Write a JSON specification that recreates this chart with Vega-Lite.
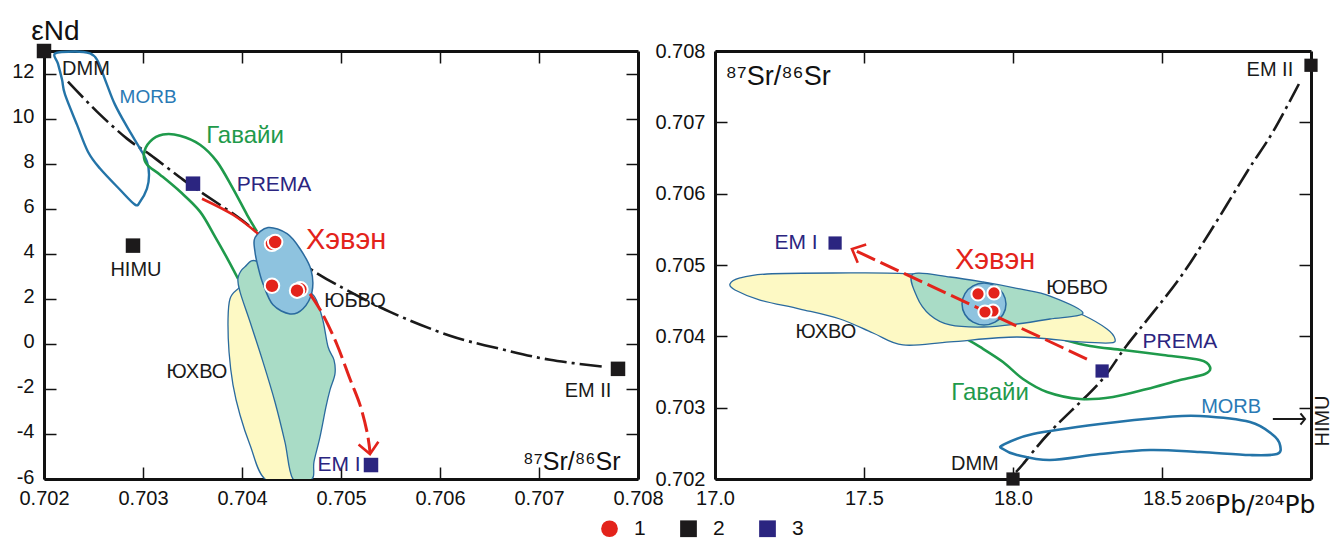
{
"$schema":"https://vega.github.io/schema/vega-lite/v6.json",
"background":"white",
"padding":{"left":11,"top":17,"right":0,"bottom":0},
"bounds":"flush",
"spacing":77,
"config":{"view":{"stroke":null},"font":"Liberation Sans",
 "axis":{"domainColor":"#111","domainWidth":3,"tickColor":"#111","tickWidth":1.5,"tickSize":-12,"labelFont":"Liberation Sans","labelFontSize":20,"labelColor":"#111","labelPadding":22,"labelFlush":false,"labelOverlap":false,"grid":false,"titleFont":"Liberation Sans","titleColor":"#111","titleFontWeight":"normal"},
 "axisBottom":{"labelPadding":21}},
"datasets":{
"L_shapes":[
{"s":"morb","i":1,"x":0.702111,"y":12.89},{"s":"morb","i":2,"x":0.702313,"y":12.98},{"s":"morb","i":3,"x":0.702465,"y":12.89},{"s":"morb","i":4,"x":0.702535,"y":12.62},{"s":"morb","i":5,"x":0.702586,"y":12.09},{"s":"morb","i":6,"x":0.702636,"y":11.51},{"s":"morb","i":7,"x":0.702717,"y":10.62},{"s":"morb","i":8,"x":0.702838,"y":9.64},{"s":"morb","i":9,"x":0.70297,"y":8.67},{"s":"morb","i":10,"x":0.70304,"y":8.09},{"s":"morb","i":11,"x":0.703061,"y":7.51},{"s":"morb","i":12,"x":0.70304,"y":6.89},{"s":"morb","i":13,"x":0.70297,"y":6.31},{"s":"morb","i":14,"x":0.702919,"y":6.18},{"s":"morb","i":15,"x":0.702768,"y":6.84},{"s":"morb","i":16,"x":0.702566,"y":7.78},{"s":"morb","i":17,"x":0.702444,"y":8.53},{"s":"morb","i":18,"x":0.702333,"y":9.73},{"s":"morb","i":19,"x":0.702212,"y":11.07},{"s":"morb","i":20,"x":0.702182,"y":11.73},{"s":"morb","i":21,"x":0.702141,"y":12.44},
{"s":"haw","i":1,"x":0.70396,"y":2.89},{"s":"haw","i":2,"x":0.703859,"y":3.73},{"s":"haw","i":3,"x":0.703727,"y":4.76},{"s":"haw","i":4,"x":0.703576,"y":5.87},{"s":"haw","i":5,"x":0.703374,"y":6.76},{"s":"haw","i":6,"x":0.703172,"y":7.51},{"s":"haw","i":7,"x":0.70304,"y":7.96},{"s":"haw","i":8,"x":0.70301,"y":8.44},{"s":"haw","i":9,"x":0.703071,"y":8.98},{"s":"haw","i":10,"x":0.703202,"y":9.29},{"s":"haw","i":11,"x":0.703374,"y":9.24},{"s":"haw","i":12,"x":0.703576,"y":8.84},{"s":"haw","i":13,"x":0.703747,"y":8.09},{"s":"haw","i":14,"x":0.703909,"y":6.89},{"s":"haw","i":15,"x":0.704051,"y":5.73},{"s":"haw","i":16,"x":0.704152,"y":4.98},
{"s":"yuhvo","i":1,"x":0.70403,"y":2.53},{"s":"yuhvo","i":2,"x":0.703949,"y":2.4},{"s":"yuhvo","i":3,"x":0.703879,"y":2.0},{"s":"yuhvo","i":4,"x":0.703859,"y":1.11},{"s":"yuhvo","i":5,"x":0.703869,"y":-0.36},{"s":"yuhvo","i":6,"x":0.703909,"y":-1.82},{"s":"yuhvo","i":7,"x":0.70398,"y":-3.16},{"s":"yuhvo","i":8,"x":0.704081,"y":-4.49},{"s":"yuhvo","i":9,"x":0.704232,"y":-6.0},{"s":"yuhvo","i":10,"x":0.704535,"y":-6.0},{"s":"yuhvo","i":11,"x":0.704384,"y":-2.58},{"s":"yuhvo","i":12,"x":0.704131,"y":1.42},
{"s":"yubvo","i":1,"x":0.70396,"y":2.93},{"s":"yubvo","i":2,"x":0.70403,"y":3.42},{"s":"yubvo","i":3,"x":0.704162,"y":3.64},{"s":"yubvo","i":4,"x":0.704485,"y":2.31},{"s":"yubvo","i":5,"x":0.704707,"y":2.22},{"s":"yubvo","i":6,"x":0.704808,"y":1.2},{"s":"yubvo","i":7,"x":0.704869,"y":-0.13},{"s":"yubvo","i":8,"x":0.704929,"y":-0.71},{"s":"yubvo","i":9,"x":0.704939,"y":-1.33},{"s":"yubvo","i":10,"x":0.704889,"y":-2.04},{"s":"yubvo","i":11,"x":0.704848,"y":-2.8},{"s":"yubvo","i":12,"x":0.704788,"y":-4.13},{"s":"yubvo","i":13,"x":0.704727,"y":-5.24},{"s":"yubvo","i":14,"x":0.704707,"y":-6.0},{"s":"yubvo","i":15,"x":0.704515,"y":-6.0},{"s":"yubvo","i":16,"x":0.704434,"y":-4.36},{"s":"yubvo","i":17,"x":0.704333,"y":-2.58},{"s":"yubvo","i":18,"x":0.704212,"y":-0.8},{"s":"yubvo","i":19,"x":0.704081,"y":0.98},{"s":"yubvo","i":20,"x":0.70398,"y":2.31},
{"s":"hev","i":1,"x":0.704263,"y":5.16},{"s":"hev","i":2,"x":0.704455,"y":4.89},{"s":"hev","i":3,"x":0.704586,"y":4.22},{"s":"hev","i":4,"x":0.704697,"y":3.29},{"s":"hev","i":5,"x":0.704707,"y":2.31},{"s":"hev","i":6,"x":0.704616,"y":1.56},{"s":"hev","i":7,"x":0.704485,"y":1.33},{"s":"hev","i":8,"x":0.704313,"y":1.73},{"s":"hev","i":9,"x":0.704212,"y":2.67},{"s":"hev","i":10,"x":0.704162,"y":3.42},{"s":"hev","i":11,"x":0.704131,"y":4.09},{"s":"hev","i":12,"x":0.704131,"y":4.71},
{"s":"blk","i":1,"x":0.702242,"y":11.64},{"s":"blk","i":2,"x":0.702535,"y":10.31},{"s":"blk","i":3,"x":0.702838,"y":9.11},{"s":"blk","i":4,"x":0.703071,"y":8.4},{"s":"blk","i":5,"x":0.703404,"y":7.29},{"s":"blk","i":6,"x":0.703576,"y":6.76},{"s":"blk","i":7,"x":0.703909,"y":5.78},{"s":"blk","i":8,"x":0.704152,"y":4.98},{"s":"blk","i":9,"x":0.704434,"y":4.09},{"s":"blk","i":10,"x":0.704687,"y":3.33},{"s":"blk","i":11,"x":0.70496,"y":2.62},{"s":"blk","i":12,"x":0.705495,"y":1.42},{"s":"blk","i":13,"x":0.706101,"y":0.36},{"s":"blk","i":14,"x":0.706606,"y":-0.22},{"s":"blk","i":15,"x":0.707111,"y":-0.71},{"s":"blk","i":16,"x":0.707667,"y":-1.02},
{"s":"redA","i":1,"x":0.703596,"y":6.44},{"s":"redA","i":2,"x":0.703909,"y":5.73},{"s":"redA","i":3,"x":0.704162,"y":4.89},
{"s":"redB","i":1,"x":0.704687,"y":2.22},{"s":"redB","i":2,"x":0.704818,"y":1.29},{"s":"redB","i":3,"x":0.70496,"y":-0.04},{"s":"redB","i":4,"x":0.705091,"y":-1.56},{"s":"redB","i":5,"x":0.705192,"y":-2.71},{"s":"redB","i":6,"x":0.705263,"y":-3.91},{"s":"redB","i":7,"x":0.705293,"y":-4.8}
],
"L_pts":[
{"type":"1","x":0.704303,"y":4.44},{"type":"1","x":0.704335,"y":4.52},{"type":"1","x":0.704303,"y":2.58},{"type":"1","x":0.70459,"y":2.42},{"type":"1","x":0.704556,"y":2.36},
{"type":"2","x":0.702,"y":13.0},{"type":"2","x":0.702899,"y":4.36},{"type":"2","x":0.707798,"y":-1.11},
{"type":"3","x":0.703505,"y":7.11},{"type":"3","x":0.705303,"y":-5.38}
],
"L_tip":[{"x":0.705293,"y":-4.89}],
"L_txt":[
{"t":"DMM","x":0.702424,"y":12.18},{"t":"MORB","x":0.703051,"y":10.98},{"t":"Гавайи","x":0.70403,"y":9.24},{"t":"PREMA","x":0.704323,"y":7.07},{"t":"HIMU","x":0.702929,"y":3.29},{"t":"Хэвэн","x":0.705051,"y":4.62},{"t":"ЮБВО","x":0.705141,"y":1.91},{"t":"ЮХВО","x":0.703545,"y":-1.24},{"t":"EM I","x":0.70498,"y":-5.38},{"t":"EM II","x":0.707495,"y":-2.09}
],
"R_shapes":[
{"s":"morb","i":1,"x":17.9664,"y":0.702477},{"s":"morb","i":2,"x":18.0671,"y":0.702631},{"s":"morb","i":3,"x":18.2919,"y":0.702771},{"s":"morb","i":4,"x":18.5168,"y":0.702869},{"s":"morb","i":5,"x":18.6275,"y":0.702883},{"s":"morb","i":6,"x":18.7953,"y":0.702799},{"s":"morb","i":7,"x":18.8725,"y":0.702617},{"s":"morb","i":8,"x":18.896,"y":0.702477},{"s":"morb","i":9,"x":18.8859,"y":0.70235},{"s":"morb","i":10,"x":18.7953,"y":0.702336},{"s":"morb","i":11,"x":18.6275,"y":0.702378},{"s":"morb","i":12,"x":18.4597,"y":0.702406},{"s":"morb","i":13,"x":18.2919,"y":0.70235},{"s":"morb","i":14,"x":18.1242,"y":0.702266},{"s":"morb","i":15,"x":18.0134,"y":0.702336},{"s":"morb","i":16,"x":17.9664,"y":0.702421},
{"s":"haw","i":1,"x":17.849,"y":0.703949},{"s":"haw","i":2,"x":17.8893,"y":0.703851},{"s":"haw","i":3,"x":17.9664,"y":0.70364},{"s":"haw","i":4,"x":18.0336,"y":0.703402},{"s":"haw","i":5,"x":18.1141,"y":0.70322},{"s":"haw","i":6,"x":18.2248,"y":0.703122},{"s":"haw","i":7,"x":18.3356,"y":0.70315},{"s":"haw","i":8,"x":18.4497,"y":0.703262},{"s":"haw","i":9,"x":18.5604,"y":0.703388},{"s":"haw","i":10,"x":18.6443,"y":0.703472},{"s":"haw","i":11,"x":18.6611,"y":0.70357},{"s":"haw","i":12,"x":18.6275,"y":0.703668},{"s":"haw","i":13,"x":18.5034,"y":0.703738},{"s":"haw","i":14,"x":18.3691,"y":0.703808},{"s":"haw","i":15,"x":18.2584,"y":0.703865},{"s":"haw","i":16,"x":18.1745,"y":0.703949},
{"s":"yuhvo","i":1,"x":17.0503,"y":0.704734},{"s":"yuhvo","i":2,"x":17.0839,"y":0.704818},{"s":"yuhvo","i":3,"x":17.1745,"y":0.704874},{"s":"yuhvo","i":4,"x":17.396,"y":0.704888},{"s":"yuhvo","i":5,"x":17.6644,"y":0.704874},{"s":"yuhvo","i":6,"x":17.8993,"y":0.704734},{"s":"yuhvo","i":7,"x":18.1242,"y":0.704481},{"s":"yuhvo","i":8,"x":18.2349,"y":0.704299},{"s":"yuhvo","i":9,"x":18.3154,"y":0.704103},{"s":"yuhvo","i":10,"x":18.3423,"y":0.703963},{"s":"yuhvo","i":11,"x":18.3255,"y":0.703907},{"s":"yuhvo","i":12,"x":18.2248,"y":0.703921},{"s":"yuhvo","i":13,"x":18.0134,"y":0.703991},{"s":"yuhvo","i":14,"x":17.7886,"y":0.703921},{"s":"yuhvo","i":15,"x":17.6309,"y":0.703879},{"s":"yuhvo","i":16,"x":17.5302,"y":0.704047},{"s":"yuhvo","i":17,"x":17.4195,"y":0.704243},{"s":"yuhvo","i":18,"x":17.2852,"y":0.704383},{"s":"yuhvo","i":19,"x":17.151,"y":0.704509},{"s":"yuhvo","i":20,"x":17.0671,"y":0.70465},
{"s":"yubvo","i":1,"x":17.6644,"y":0.704874},{"s":"yubvo","i":2,"x":17.7886,"y":0.704832},{"s":"yubvo","i":3,"x":17.8993,"y":0.704762},{"s":"yubvo","i":4,"x":18.0235,"y":0.704664},{"s":"yubvo","i":5,"x":18.1242,"y":0.704565},{"s":"yubvo","i":6,"x":18.2349,"y":0.704327},{"s":"yubvo","i":7,"x":18.1242,"y":0.704243},{"s":"yubvo","i":8,"x":18.0134,"y":0.704173},{"s":"yubvo","i":9,"x":17.8993,"y":0.704131},{"s":"yubvo","i":10,"x":17.7886,"y":0.704159},{"s":"yubvo","i":11,"x":17.7215,"y":0.704299},{"s":"yubvo","i":12,"x":17.6779,"y":0.704551},
{"s":"hev","i":1,"x":17.9765,"y":0.704453},{"s":"hev","i":2,"x":17.9666,"y":0.7046},{"s":"hev","i":3,"x":17.9396,"y":0.704708},{"s":"hev","i":4,"x":17.9027,"y":0.704747},{"s":"hev","i":5,"x":17.8658,"y":0.704708},{"s":"hev","i":6,"x":17.8388,"y":0.7046},{"s":"hev","i":7,"x":17.8289,"y":0.704453},{"s":"hev","i":8,"x":17.8388,"y":0.704306},{"s":"hev","i":9,"x":17.8658,"y":0.704198},{"s":"hev","i":10,"x":17.9027,"y":0.704159},{"s":"hev","i":11,"x":17.9396,"y":0.704198},{"s":"hev","i":12,"x":17.9666,"y":0.704306},
{"s":"blk","i":1,"x":18.01,"y":0.702098},{"s":"blk","i":2,"x":18.034,"y":0.70221},{"s":"blk","i":3,"x":18.124,"y":0.702659},{"s":"blk","i":4,"x":18.292,"y":0.70336},{"s":"blk","i":5,"x":18.383,"y":0.703879},{"s":"blk","i":6,"x":18.55,"y":0.704762},{"s":"blk","i":7,"x":18.661,"y":0.705463},{"s":"blk","i":8,"x":18.785,"y":0.706304},{"s":"blk","i":9,"x":18.872,"y":0.706865},{"s":"blk","i":10,"x":18.963,"y":0.707566},
{"s":"red","i":1,"x":18.248,"y":0.703682},{"s":"red","i":2,"x":17.4597,"y":0.705224}
],
"R_pts":[
{"type":"1","x":17.8826,"y":0.704594},{"type":"1","x":17.9362,"y":0.704608},{"type":"1","x":17.9329,"y":0.704355},{"type":"1","x":17.906,"y":0.704341},
{"type":"2","x":18.0,"y":0.702},{"type":"2","x":19.0,"y":0.7078},
{"type":"3","x":18.299,"y":0.703514},{"type":"3","x":17.403,"y":0.705308}
],
"R_tip":[{"x":17.4597,"y":0.705224}],
"R_arrow":[{"x":18.872,"x2":18.98,"y":0.702841}],
"R_txt":[
{"t":"EM II","x":18.862,"y":0.707734},{"t":"EM I","x":17.272,"y":0.705308},{"t":"Хэвэн","x":17.94,"y":0.70507},{"t":"ЮБВО","x":18.215,"y":0.704678},{"t":"ЮХВО","x":17.372,"y":0.704061},{"t":"Гавайи","x":17.923,"y":0.703206},{"t":"PREMA","x":18.56,"y":0.703921},{"t":"MORB","x":18.732,"y":0.703009},{"t":"DMM","x":17.872,"y":0.70221},{"t":"HIMU","x":19.04,"y":0.702813}
]
},
"hconcat":[
{
"width":594,"height":428,
"resolve":{"axis":{"x":"independent","y":"independent"}},
"layer":[
{"data":{"name":"L_pts"},"mark":{"type":"point","opacity":0},
 "encoding":{
  "x":{"field":"x","type":"quantitative","scale":{"domain":[0.702,0.708],"nice":false,"zero":false},"axis":{"orient":"bottom","values":[0.702,0.703,0.704,0.705,0.706,0.707,0.708],"format":".3f","title":"⁸⁷Sr/⁸⁶Sr","titleX":576,"titleY":-10,"titleAlign":"right","titleBaseline":"alphabetic","titleFontSize":25}},
  "y":{"field":"y","type":"quantitative","scale":{"domain":[-6,13],"nice":false,"zero":false},"axis":{"orient":"left","values":[-6,-4,-2,0,2,4,6,8,10,12],"labelOffset":-2,"labelExpr":"replace(datum.label,'−','-')","title":"εNd","titleX":11,"titleY":-12,"titleAngle":0,"titleAlign":"center","titleBaseline":"alphabetic","titleFontSize":28}}}},
{"data":{"name":"L_pts"},"mark":{"type":"point","opacity":0},
 "encoding":{
  "x":{"field":"x","type":"quantitative","scale":{"domain":[0.702,0.708],"nice":false,"zero":false},"axis":{"orient":"top","values":[0.703,0.704,0.705,0.706,0.707],"labels":false,"title":null}},
  "y":{"field":"y","type":"quantitative","scale":{"domain":[-6,13],"nice":false,"zero":false},"axis":{"orient":"right","values":[-4,-2,0,2,4,6,8,10,12],"labels":false,"title":null}}}},
{"data":{"name":"L_shapes"},"transform":[{"filter":"datum.s==='blk'"}],"mark":{"type":"line","color":"#1a1a1a","strokeWidth":2.6,"strokeDash":[22,5,3,5],"interpolate":"cardinal"},
 "encoding":{"x":{"field":"x","type":"quantitative","scale":{"domain":[0.702,0.708],"nice":false,"zero":false},"axis":null},"y":{"field":"y","type":"quantitative","scale":{"domain":[-6,13],"nice":false,"zero":false},"axis":null},"order":{"field":"i"}}},
{"data":{"name":"L_shapes"},"transform":[{"filter":"datum.s==='morb'"}],"mark":{"type":"line","color":"#2474a8","strokeWidth":2.4,"interpolate":"cardinal-closed"},
 "encoding":{"x":{"field":"x","type":"quantitative","scale":{"domain":[0.702,0.708],"nice":false,"zero":false},"axis":null},"y":{"field":"y","type":"quantitative","scale":{"domain":[-6,13],"nice":false,"zero":false},"axis":null},"order":{"field":"i"}}},
{"data":{"name":"L_shapes"},"transform":[{"filter":"datum.s==='haw'"}],"mark":{"type":"line","color":"#1f9a4b","strokeWidth":2.6,"interpolate":"cardinal"},
 "encoding":{"x":{"field":"x","type":"quantitative","scale":{"domain":[0.702,0.708],"nice":false,"zero":false},"axis":null},"y":{"field":"y","type":"quantitative","scale":{"domain":[-6,13],"nice":false,"zero":false},"axis":null},"order":{"field":"i"}}},
{"data":{"name":"L_shapes"},"transform":[{"filter":"datum.s==='yuhvo'"}],"mark":{"type":"line","fill":"#fdf9c4","stroke":"#2a6a9e","strokeWidth":1.3,"interpolate":"cardinal-closed","clip":true},
 "encoding":{"x":{"field":"x","type":"quantitative","scale":{"domain":[0.702,0.708],"nice":false,"zero":false},"axis":null},"y":{"field":"y","type":"quantitative","scale":{"domain":[-6,13],"nice":false,"zero":false},"axis":null},"order":{"field":"i"}}},
{"data":{"name":"L_shapes"},"transform":[{"filter":"datum.s==='yubvo'"}],"mark":{"type":"line","fill":"#a9dcc6","stroke":"#2a6a9e","strokeWidth":1.3,"interpolate":"cardinal-closed","clip":true},
 "encoding":{"x":{"field":"x","type":"quantitative","scale":{"domain":[0.702,0.708],"nice":false,"zero":false},"axis":null},"y":{"field":"y","type":"quantitative","scale":{"domain":[-6,13],"nice":false,"zero":false},"axis":null},"order":{"field":"i"}}},
{"data":{"name":"L_shapes"},"transform":[{"filter":"datum.s==='hev'"}],"mark":{"type":"line","fill":"#8ec3df","stroke":"#2a6a9e","strokeWidth":1.5,"interpolate":"cardinal-closed"},
 "encoding":{"x":{"field":"x","type":"quantitative","scale":{"domain":[0.702,0.708],"nice":false,"zero":false},"axis":null},"y":{"field":"y","type":"quantitative","scale":{"domain":[-6,13],"nice":false,"zero":false},"axis":null},"order":{"field":"i"}}},
{"data":{"name":"L_shapes"},"transform":[{"filter":"datum.s==='redA'"}],"mark":{"type":"line","color":"#e3231b","strokeWidth":2.6,"interpolate":"cardinal"},
 "encoding":{"x":{"field":"x","type":"quantitative","scale":{"domain":[0.702,0.708],"nice":false,"zero":false},"axis":null},"y":{"field":"y","type":"quantitative","scale":{"domain":[-6,13],"nice":false,"zero":false},"axis":null},"order":{"field":"i"}}},
{"data":{"name":"L_shapes"},"transform":[{"filter":"datum.s==='redB'"}],"mark":{"type":"line","color":"#e3231b","strokeWidth":3,"strokeDash":[20,6],"interpolate":"cardinal"},
 "encoding":{"x":{"field":"x","type":"quantitative","scale":{"domain":[0.702,0.708],"nice":false,"zero":false},"axis":null},"y":{"field":"y","type":"quantitative","scale":{"domain":[-6,13],"nice":false,"zero":false},"axis":null},"order":{"field":"i"}}},
{"data":{"name":"L_tip"},"mark":{"type":"point","shape":"M-1,-1.1L0,0L1,-1.1","size":400,"filled":false,"stroke":"#e3231b","strokeWidth":2.6,"angle":352,"opacity":1},
 "encoding":{"x":{"field":"x","type":"quantitative","scale":{"domain":[0.702,0.708],"nice":false,"zero":false},"axis":null},"y":{"field":"y","type":"quantitative","scale":{"domain":[-6,13],"nice":false,"zero":false},"axis":null}}},
{"data":{"name":"L_pts"},"mark":{"type":"point","filled":true,"opacity":1,"size":210,"strokeWidth":2},
 "encoding":{"x":{"field":"x","type":"quantitative","scale":{"domain":[0.702,0.708],"nice":false,"zero":false},"axis":null},"y":{"field":"y","type":"quantitative","scale":{"domain":[-6,13],"nice":false,"zero":false},"axis":null},
  "color":{"field":"type","type":"nominal","scale":{"domain":["1","2","3"],"range":["#e3231b","#1c1a1b","#2b2580"]},"legend":{"orient":"none","legendX":555,"legendY":467,"direction":"horizontal","title":null,"symbolSize":280,"labelFontSize":21,"labelFont":"Liberation Sans","labelColor":"#111","labelOffset":14,"columnPadding":32,"symbolStrokeWidth":0}},
  "shape":{"field":"type","type":"nominal","scale":{"domain":["1","2","3"],"range":["circle","square","square"]},"legend":{"orient":"none","legendX":555,"legendY":467,"direction":"horizontal","title":null,"symbolSize":280,"labelFontSize":21,"labelFont":"Liberation Sans","labelColor":"#111","labelOffset":14,"columnPadding":32,"symbolStrokeWidth":0}},
  "stroke":{"condition":{"test":"datum.type==='1'","value":"white"},"value":"transparent"}}},
{"data":{"name":"L_txt"},"transform":[{"filter":{"field":"t","oneOf":["DMM","HIMU","ЮБВО","ЮХВО","EM II"]}}],"mark":{"type":"text","font":"Liberation Sans","fontSize":20,"color":"#1a1a1a","align":"center","baseline":"middle"},
 "encoding":{"x":{"field":"x","type":"quantitative","scale":{"domain":[0.702,0.708],"nice":false,"zero":false},"axis":null},"y":{"field":"y","type":"quantitative","scale":{"domain":[-6,13],"nice":false,"zero":false},"axis":null},"text":{"field":"t"}}},
{"data":{"name":"L_txt"},"transform":[{"filter":{"field":"t","oneOf":["PREMA","EM I"]}}],"mark":{"type":"text","font":"Liberation Sans","fontSize":21,"color":"#2b2580","align":"center","baseline":"middle"},
 "encoding":{"x":{"field":"x","type":"quantitative","scale":{"domain":[0.702,0.708],"nice":false,"zero":false},"axis":null},"y":{"field":"y","type":"quantitative","scale":{"domain":[-6,13],"nice":false,"zero":false},"axis":null},"text":{"field":"t"}}},
{"data":{"name":"L_txt"},"transform":[{"filter":"datum.t==='MORB'"}],"mark":{"type":"text","font":"Liberation Sans","fontSize":19,"color":"#2a7ab5","align":"center","baseline":"middle"},
 "encoding":{"x":{"field":"x","type":"quantitative","scale":{"domain":[0.702,0.708],"nice":false,"zero":false},"axis":null},"y":{"field":"y","type":"quantitative","scale":{"domain":[-6,13],"nice":false,"zero":false},"axis":null},"text":{"field":"t"}}},
{"data":{"name":"L_txt"},"transform":[{"filter":"datum.t==='Гавайи'"}],"mark":{"type":"text","font":"Liberation Sans","fontSize":24,"color":"#1f9a4b","align":"center","baseline":"middle"},
 "encoding":{"x":{"field":"x","type":"quantitative","scale":{"domain":[0.702,0.708],"nice":false,"zero":false},"axis":null},"y":{"field":"y","type":"quantitative","scale":{"domain":[-6,13],"nice":false,"zero":false},"axis":null},"text":{"field":"t"}}},
{"data":{"name":"L_txt"},"transform":[{"filter":"datum.t==='Хэвэн'"}],"mark":{"type":"text","font":"Liberation Sans","fontSize":29,"color":"#e3231b","align":"center","baseline":"middle"},
 "encoding":{"x":{"field":"x","type":"quantitative","scale":{"domain":[0.702,0.708],"nice":false,"zero":false},"axis":null},"y":{"field":"y","type":"quantitative","scale":{"domain":[-6,13],"nice":false,"zero":false},"axis":null},"text":{"field":"t"}}}
]
},
{
"width":596,"height":428,
"resolve":{"axis":{"x":"independent","y":"independent"}},
"layer":[
{"data":{"name":"R_pts"},"mark":{"type":"point","opacity":0},
 "encoding":{
  "x":{"field":"x","type":"quantitative","scale":{"domain":[17,19],"nice":false,"zero":false},"axis":{"orient":"bottom","values":[17,17.5,18,18.5,19],"labelExpr":"datum.value == 19 ? '' : format(datum.value, '.1f')","title":"²⁰⁶Pb/²⁰⁴Pb","titleFont":"DejaVu Sans","titleX":600,"titleY":33,"titleAlign":"right","titleBaseline":"alphabetic","titleFontSize":25}},
  "y":{"field":"y","type":"quantitative","scale":{"domain":[0.702,0.708],"nice":false,"zero":false},"axis":{"orient":"left","values":[0.702,0.703,0.704,0.705,0.706,0.707,0.708],"format":".3f","title":"⁸⁷Sr/⁸⁶Sr","titleX":10,"titleY":33,"titleAngle":0,"titleAlign":"left","titleBaseline":"alphabetic","titleFontSize":27}}}},
{"data":{"name":"R_pts"},"mark":{"type":"point","opacity":0},
 "encoding":{
  "x":{"field":"x","type":"quantitative","scale":{"domain":[17,19],"nice":false,"zero":false},"axis":{"orient":"top","values":[17.5,18,18.5],"labels":false,"title":null}},
  "y":{"field":"y","type":"quantitative","scale":{"domain":[0.702,0.708],"nice":false,"zero":false},"axis":{"orient":"right","values":[0.703,0.704,0.705,0.706,0.707],"labels":false,"title":null}}}},
{"data":{"name":"R_shapes"},"transform":[{"filter":"datum.s==='blk'"}],"mark":{"type":"line","color":"#1a1a1a","strokeWidth":2.6,"strokeDash":[20,5,3,5],"interpolate":"cardinal"},
 "encoding":{"x":{"field":"x","type":"quantitative","scale":{"domain":[17,19],"nice":false,"zero":false},"axis":null},"y":{"field":"y","type":"quantitative","scale":{"domain":[0.702,0.708],"nice":false,"zero":false},"axis":null},"order":{"field":"i"}}},
{"data":{"name":"R_shapes"},"transform":[{"filter":"datum.s==='morb'"}],"mark":{"type":"line","color":"#2474a8","strokeWidth":2.6,"interpolate":"cardinal-closed"},
 "encoding":{"x":{"field":"x","type":"quantitative","scale":{"domain":[17,19],"nice":false,"zero":false},"axis":null},"y":{"field":"y","type":"quantitative","scale":{"domain":[0.702,0.708],"nice":false,"zero":false},"axis":null},"order":{"field":"i"}}},
{"data":{"name":"R_shapes"},"transform":[{"filter":"datum.s==='haw'"}],"mark":{"type":"line","color":"#1f9a4b","strokeWidth":2.6,"interpolate":"cardinal"},
 "encoding":{"x":{"field":"x","type":"quantitative","scale":{"domain":[17,19],"nice":false,"zero":false},"axis":null},"y":{"field":"y","type":"quantitative","scale":{"domain":[0.702,0.708],"nice":false,"zero":false},"axis":null},"order":{"field":"i"}}},
{"data":{"name":"R_shapes"},"transform":[{"filter":"datum.s==='yuhvo'"}],"mark":{"type":"line","fill":"#fdf9c4","stroke":"#2a6a9e","strokeWidth":1.3,"interpolate":"cardinal-closed"},
 "encoding":{"x":{"field":"x","type":"quantitative","scale":{"domain":[17,19],"nice":false,"zero":false},"axis":null},"y":{"field":"y","type":"quantitative","scale":{"domain":[0.702,0.708],"nice":false,"zero":false},"axis":null},"order":{"field":"i"}}},
{"data":{"name":"R_shapes"},"transform":[{"filter":"datum.s==='yubvo'"}],"mark":{"type":"line","fill":"#a9dcc6","stroke":"#2a6a9e","strokeWidth":1.3,"interpolate":"cardinal-closed"},
 "encoding":{"x":{"field":"x","type":"quantitative","scale":{"domain":[17,19],"nice":false,"zero":false},"axis":null},"y":{"field":"y","type":"quantitative","scale":{"domain":[0.702,0.708],"nice":false,"zero":false},"axis":null},"order":{"field":"i"}}},
{"data":{"name":"R_shapes"},"transform":[{"filter":"datum.s==='hev'"}],"mark":{"type":"line","fill":"#8ec3df","stroke":"#2a6a9e","strokeWidth":1.5,"interpolate":"cardinal-closed"},
 "encoding":{"x":{"field":"x","type":"quantitative","scale":{"domain":[17,19],"nice":false,"zero":false},"axis":null},"y":{"field":"y","type":"quantitative","scale":{"domain":[0.702,0.708],"nice":false,"zero":false},"axis":null},"order":{"field":"i"}}},
{"data":{"name":"R_shapes"},"transform":[{"filter":"datum.s==='red'"}],"mark":{"type":"line","color":"#e3231b","strokeWidth":3,"strokeDash":[20,6]},
 "encoding":{"x":{"field":"x","type":"quantitative","scale":{"domain":[17,19],"nice":false,"zero":false},"axis":null},"y":{"field":"y","type":"quantitative","scale":{"domain":[0.702,0.708],"nice":false,"zero":false},"axis":null},"order":{"field":"i"}}},
{"data":{"name":"R_tip"},"mark":{"type":"point","shape":"M-1,-1.1L0,0L1,-1.1","size":400,"filled":false,"stroke":"#e3231b","strokeWidth":2.6,"angle":115,"opacity":1},
 "encoding":{"x":{"field":"x","type":"quantitative","scale":{"domain":[17,19],"nice":false,"zero":false},"axis":null},"y":{"field":"y","type":"quantitative","scale":{"domain":[0.702,0.708],"nice":false,"zero":false},"axis":null}}},
{"data":{"name":"R_arrow"},"mark":{"type":"rule","color":"#1a1a1a","strokeWidth":2},
 "encoding":{"x":{"field":"x","type":"quantitative","scale":{"domain":[17,19],"nice":false,"zero":false},"axis":null},"x2":{"field":"x2"},"y":{"field":"y","type":"quantitative","scale":{"domain":[0.702,0.708],"nice":false,"zero":false},"axis":null}}},
{"data":{"name":"R_arrow"},"mark":{"type":"point","shape":"M-0.8,-1L0,0L-0.8,1","size":130,"filled":false,"stroke":"#1a1a1a","strokeWidth":2,"opacity":1},
 "encoding":{"x":{"field":"x2","type":"quantitative","scale":{"domain":[17,19],"nice":false,"zero":false},"axis":null},"y":{"field":"y","type":"quantitative","scale":{"domain":[0.702,0.708],"nice":false,"zero":false},"axis":null}}},
{"data":{"name":"R_pts"},"mark":{"type":"point","filled":true,"opacity":1,"size":175,"strokeWidth":2},
 "encoding":{"x":{"field":"x","type":"quantitative","scale":{"domain":[17,19],"nice":false,"zero":false},"axis":null},"y":{"field":"y","type":"quantitative","scale":{"domain":[0.702,0.708],"nice":false,"zero":false},"axis":null},
  "color":{"field":"type","type":"nominal","scale":{"domain":["1","2","3"],"range":["#e3231b","#1c1a1b","#2b2580"]}},
  "shape":{"field":"type","type":"nominal","scale":{"domain":["1","2","3"],"range":["circle","square","square"]}},
  "stroke":{"condition":{"test":"datum.type==='1'","value":"white"},"value":"transparent"}}},
{"data":{"name":"R_txt"},"transform":[{"filter":{"field":"t","oneOf":["DMM","ЮБВО","ЮХВО","EM II"]}}],"mark":{"type":"text","font":"Liberation Sans","fontSize":20,"color":"#1a1a1a","align":"center","baseline":"middle"},
 "encoding":{"x":{"field":"x","type":"quantitative","scale":{"domain":[17,19],"nice":false,"zero":false},"axis":null},"y":{"field":"y","type":"quantitative","scale":{"domain":[0.702,0.708],"nice":false,"zero":false},"axis":null},"text":{"field":"t"}}},
{"data":{"name":"R_txt"},"transform":[{"filter":"datum.t==='HIMU'"}],"mark":{"type":"text","font":"Liberation Sans","fontSize":20,"color":"#1a1a1a","align":"center","baseline":"middle","angle":270},
 "encoding":{"x":{"field":"x","type":"quantitative","scale":{"domain":[17,19],"nice":false,"zero":false},"axis":null},"y":{"field":"y","type":"quantitative","scale":{"domain":[0.702,0.708],"nice":false,"zero":false},"axis":null},"text":{"field":"t"}}},
{"data":{"name":"R_txt"},"transform":[{"filter":{"field":"t","oneOf":["PREMA","EM I"]}}],"mark":{"type":"text","font":"Liberation Sans","fontSize":21,"color":"#2b2580","align":"center","baseline":"middle"},
 "encoding":{"x":{"field":"x","type":"quantitative","scale":{"domain":[17,19],"nice":false,"zero":false},"axis":null},"y":{"field":"y","type":"quantitative","scale":{"domain":[0.702,0.708],"nice":false,"zero":false},"axis":null},"text":{"field":"t"}}},
{"data":{"name":"R_txt"},"transform":[{"filter":"datum.t==='MORB'"}],"mark":{"type":"text","font":"Liberation Sans","fontSize":20,"color":"#2a7ab5","align":"center","baseline":"middle"},
 "encoding":{"x":{"field":"x","type":"quantitative","scale":{"domain":[17,19],"nice":false,"zero":false},"axis":null},"y":{"field":"y","type":"quantitative","scale":{"domain":[0.702,0.708],"nice":false,"zero":false},"axis":null},"text":{"field":"t"}}},
{"data":{"name":"R_txt"},"transform":[{"filter":"datum.t==='Гавайи'"}],"mark":{"type":"text","font":"Liberation Sans","fontSize":24,"color":"#1f9a4b","align":"center","baseline":"middle"},
 "encoding":{"x":{"field":"x","type":"quantitative","scale":{"domain":[17,19],"nice":false,"zero":false},"axis":null},"y":{"field":"y","type":"quantitative","scale":{"domain":[0.702,0.708],"nice":false,"zero":false},"axis":null},"text":{"field":"t"}}},
{"data":{"name":"R_txt"},"transform":[{"filter":"datum.t==='Хэвэн'"}],"mark":{"type":"text","font":"Liberation Sans","fontSize":29,"color":"#e3231b","align":"center","baseline":"middle"},
 "encoding":{"x":{"field":"x","type":"quantitative","scale":{"domain":[17,19],"nice":false,"zero":false},"axis":null},"y":{"field":"y","type":"quantitative","scale":{"domain":[0.702,0.708],"nice":false,"zero":false},"axis":null},"text":{"field":"t"}}}
]
}
]
}
